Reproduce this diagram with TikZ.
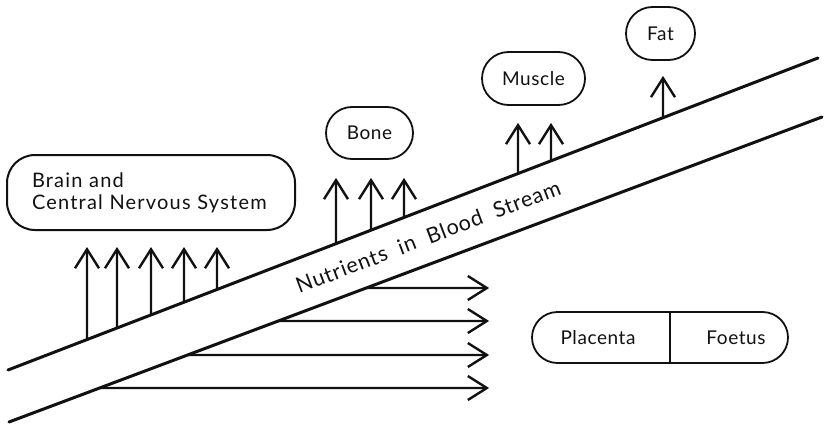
\documentclass[tikz,border=0pt]{standalone}
\usepackage{fontspec}
\setmainfont{Lato}[LetterSpace=3]
\usetikzlibrary{arrows.meta,calc,shapes.misc}
\definecolor{inkline}{HTML}{111111}

\begin{document}
\begin{tikzpicture}[
  x=1pt, y=-1pt,
  font=\fontsize{19}{22}\selectfont,
  >={Straight Barb[length=19pt,width=24pt]},
  organ/.style={rounded rectangle, draw=inkline, line width=1.8pt, align=center,
                minimum height=52pt, inner sep=0pt, text=inkline},
  brainbox/.style={rectangle, rounded corners=28pt, draw=inkline, line width=2pt,
                   text=inkline, font=\fontsize{20}{22}\selectfont\addfontfeatures{LetterSpace=6}},
  part/.style={inner sep=0pt, text=inkline},
  vessel/.style={draw=inkline, line width=3pt, line cap=round},
  uparr/.style={->, draw=inkline, line width=2.4pt},
  sidearr/.style={->, draw=inkline, line width=2.4pt},
]
\useasboundingbox (0,0) rectangle (824,425);

% ---- blood stream ----
\coordinate (s1) at (8,370);
\coordinate (s2) at (818,58);
\coordinate (s3) at (9,422);
\coordinate (s4) at (822,117);
\draw[vessel] (s1) -- (s2);
\draw[vessel] (s3) -- (s4);
\path ($(s1)!.5!(s3)$) -- ($(s2)!.5!(s4)$)
  node[pos=0.517, sloped, text=inkline, font=\fontsize{21.5}{24}\selectfont\addfontfeatures{LetterSpace=4}]
  (stream) {Nutrients \ in \ Blood \ Stream};

% ---- organs ----
\node[brainbox, text width=238pt, align=left, inner xsep=25pt, minimum height=75pt] (brain) at (151,192.5)
  {Brain and\\Central Nervous System};
\node[organ, minimum width=87pt] (bone) at (369.5,133) {Bone};
\node[organ, minimum width=103pt, minimum height=53pt] (muscle) at (533.5,78.5) {Muscle};
\node[organ, minimum width=69pt, minimum height=53pt] (fat) at (660.5,33.5) {Fat};

% ---- placenta / foetus ----
\node[organ, minimum width=256pt, minimum height=51pt] (pair) at (660,337.5) {};
\node[part] (plac) at (598,337.5) {Placenta};
\node[part] (foet) at (736,337.5) {Foetus};
\draw[draw=inkline, line width=1.5pt] (pair.north -| 670,0) -- (pair.south -| 670,0);

% ---- uptake arrows ----
\foreach \x in {87,117,151,184,217}
  \draw[uparr] ($(s1)!{(\x-8)/810}!(s2)$) -- ($(\x,0 |- brain.south)+(0,16)$);
\foreach \x in {336,371,404}
  \draw[uparr] ($(s1)!{(\x-8)/810}!(s2)$) -- ($(\x,0 |- bone.south)+(0,18)$);
\foreach \x in {518,551}
  \draw[uparr] ($(s1)!{(\x-8)/810}!(s2)$) -- ($(\x,0 |- muscle.south)+(0,17)$);
\draw[uparr] ($(s1)!{(663-8)/810}!(s2)$) -- ($(663,0 |- fat.south)+(0,15)$);

% ---- supply to placenta ----
\foreach \y in {288,321,355,388}
  \draw[sidearr] ($(s3)!{(422-\y)/305}!(s4)$) -- ($(pair.west |- 0,\y)+(-42,0)$);

\end{tikzpicture}
\end{document}
